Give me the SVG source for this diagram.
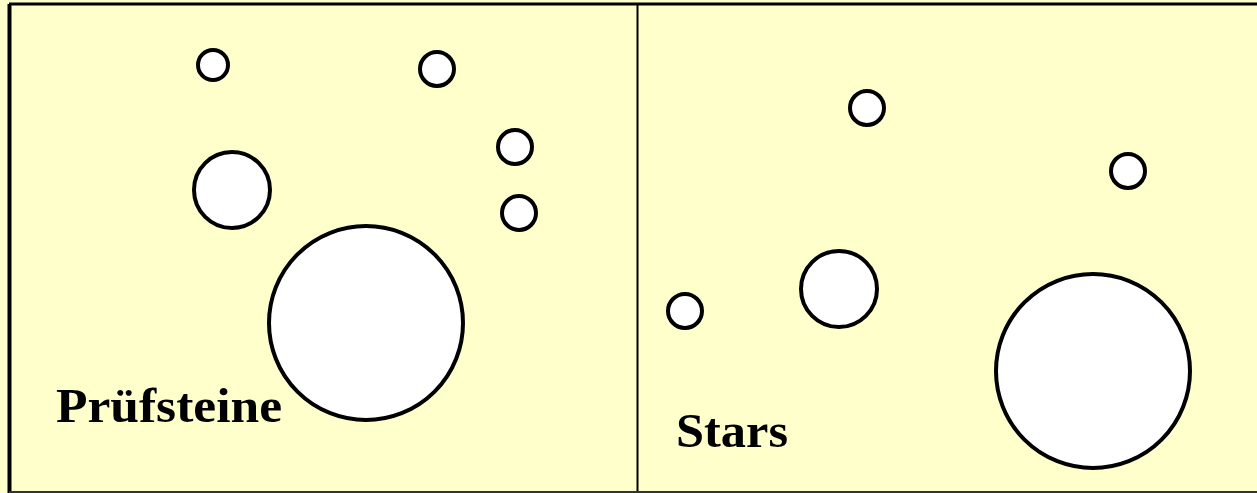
<svg xmlns="http://www.w3.org/2000/svg" width="1257" height="493" viewBox="0 0 1257 493">
<style>
.c{fill:#ffffff;stroke:#000000;stroke-width:4}
.t{font-family:"Liberation Serif",serif;font-weight:bold;font-size:49px;fill:#000}
</style>
<rect x="0" y="0" width="1257" height="493" fill="#ffffcc"/>
<g id="frame">
<line x1="9" y1="4" x2="1257" y2="4" stroke="#000" stroke-width="3"/>
<line x1="9.5" y1="4" x2="9.5" y2="493" stroke="#000" stroke-width="4"/>
<line x1="637.5" y1="4" x2="637.5" y2="493" stroke="#000" stroke-width="2"/>
<line x1="9" y1="492" x2="1257" y2="492" stroke="#333" stroke-width="2"/>
</g>
<g id="left">
<circle class="c" cx="213" cy="65" r="15"/>
<circle class="c" cx="437" cy="69" r="17"/>
<circle class="c" cx="515" cy="147" r="17"/>
<circle class="c" cx="519" cy="213" r="17"/>
<circle class="c" cx="232" cy="190" r="38"/>
<circle class="c" cx="366" cy="323" r="97"/>
<text class="t" x="56" y="422" textLength="226" lengthAdjust="spacingAndGlyphs">Prüfsteine</text>
</g>
<g id="right">
<circle class="c" cx="867" cy="108" r="17"/>
<circle class="c" cx="1128" cy="171" r="17"/>
<circle class="c" cx="685" cy="311" r="17"/>
<circle class="c" cx="839" cy="289" r="38"/>
<circle class="c" cx="1093" cy="371" r="97"/>
<text class="t" x="676" y="447" textLength="112" lengthAdjust="spacingAndGlyphs">Stars</text>
</g>
</svg>
